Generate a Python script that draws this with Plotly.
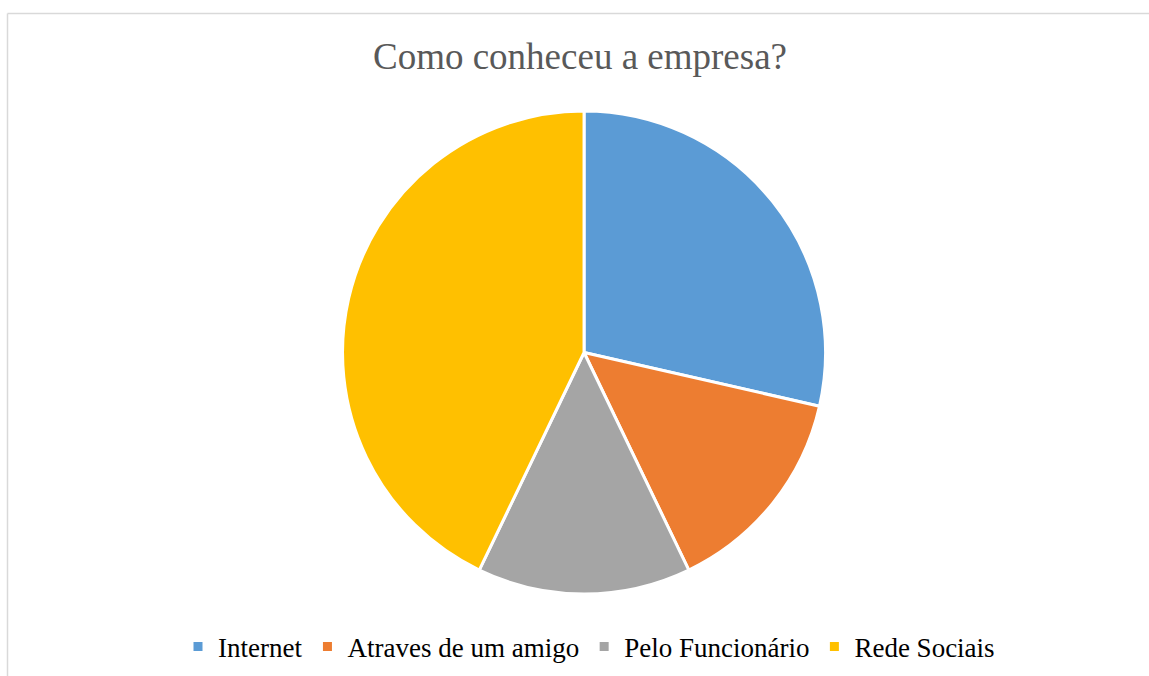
import plotly.graph_objects as go

categories = ["Internet", "Atraves de um amigo", "Pelo Funcionário", "Rede Sociais"]
values = [2, 1, 1, 3]
colors = ["#5B9BD5", "#ED7D31", "#A5A5A5", "#FFC000"]

W, H = 1149, 676
ML, MR, MT, MB = 0, 0, 111, 82
ph = H - MT - MB

fig = go.Figure(go.Pie(
    labels=categories, values=values, sort=False, direction="clockwise", rotation=0,
    marker=dict(colors=colors, line=dict(color="white", width=3)),
    textinfo="none", hoverinfo="label+value+percent",
    domain=dict(x=[0.2, 0.8166], y=[0, 1]),
))

def px_x(x):
    return (x - ML) / (W - ML - MR)

def px_y(y):
    return (H - MB - y) / ph

fig.update_layout(
    width=W, height=H,
    margin=dict(l=ML, r=MR, t=MT, b=MB),
    paper_bgcolor="white", plot_bgcolor="white",
    font=dict(family="Liberation Serif, Times New Roman, serif"),
    title=dict(text="Como conheceu a empresa?", x=580 / W, xanchor="center",
               y=1 - 56 / H, yanchor="middle", yref="container",
               font=dict(size=37, color="#595959", family="Liberation Serif, Times New Roman, serif")),
    showlegend=True,
    legend=dict(orientation="h", x=px_x(589), xanchor="center", y=px_y(647), yanchor="middle",
                font=dict(size=27, color="#000000"), itemwidth=30, traceorder="normal"),
    shapes=[
        dict(type="line", xref="paper", yref="paper", x0=px_x(7.5), x1=px_x(1149), y0=px_y(13.5), y1=px_y(13.5),
             line=dict(color="#D9D9D9", width=1.5)),
        dict(type="line", xref="paper", yref="paper", x0=px_x(7.5), x1=px_x(7.5), y0=px_y(13.5), y1=px_y(676),
             line=dict(color="#D9D9D9", width=1.5)),
    ],
)

fig.write_html("out.html")
